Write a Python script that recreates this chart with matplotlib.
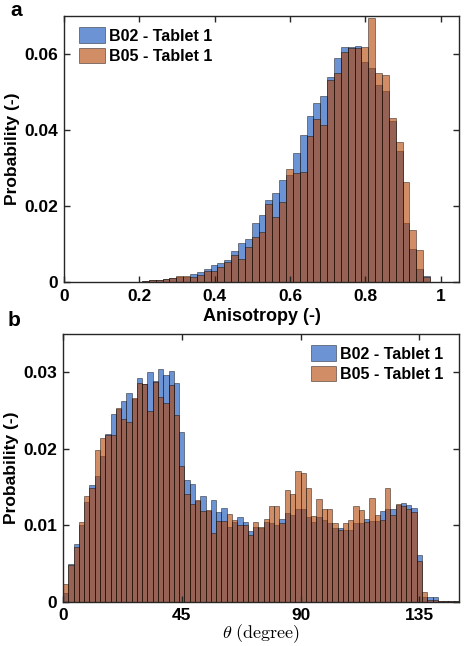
import matplotlib
matplotlib.use("Agg")
import matplotlib.pyplot as plt
import numpy as np

# ---------------- data ----------------
labels = ["B02 - Tablet 1", "B05 - Tablet 1"]

# Panel a: anisotropy histogram (bin width ~0.0182)
aniso_first_edge = 0.1890
aniso_bin_width = 0.0182
aniso_b02 = [0.0001, 0.0003, 0.0004, 0.0006, 0.0008, 0.0011, 0.0012, 0.0014, 0.0022, 0.0026,
             0.0034, 0.0044, 0.0050, 0.0059, 0.0081, 0.0103, 0.0114, 0.0154, 0.0176, 0.0215,
             0.0235, 0.0268, 0.0281, 0.0340, 0.0387, 0.0437, 0.0470, 0.0489, 0.0540, 0.0589,
             0.0619, 0.0619, 0.0622, 0.0580, 0.0562, 0.0518, 0.0502, 0.0424, 0.0345, 0.0156,
             0.0088, 0.0035, 0.0015]
aniso_b05 = [0.0001, 0.0002, 0.0005, 0.0006, 0.0008, 0.0010, 0.0017, 0.0015, 0.0012, 0.0019,
             0.0028, 0.0030, 0.0039, 0.0053, 0.0071, 0.0061, 0.0091, 0.0119, 0.0132, 0.0205,
             0.0170, 0.0210, 0.0297, 0.0286, 0.0290, 0.0384, 0.0430, 0.0414, 0.0531, 0.0551,
             0.0604, 0.0617, 0.0615, 0.0619, 0.0694, 0.0551, 0.0545, 0.0431, 0.0369, 0.0264,
             0.0138, 0.0083, 0.0013]

# Panel b: theta histogram (2 degree bins from 0)
theta_bin_width = 2.0
theta_b02 = [0.0012, 0.0050, 0.0076, 0.0101, 0.0130, 0.0153, 0.0165, 0.0191, 0.0219, 0.0246,
             0.0252, 0.0263, 0.0273, 0.0265, 0.0292, 0.0285, 0.0301, 0.0289, 0.0304, 0.0297,
             0.0302, 0.0286, 0.0222, 0.0159, 0.0154, 0.0132, 0.0139, 0.0119, 0.0133, 0.0117,
             0.0123, 0.0098, 0.0105, 0.0111, 0.0104, 0.0093, 0.0098, 0.0096, 0.0104, 0.0103,
             0.0100, 0.0108, 0.0116, 0.0114, 0.0121, 0.0122, 0.0111, 0.0104, 0.0111, 0.0107,
             0.0103, 0.0096, 0.0096, 0.0094, 0.0094, 0.0103, 0.0103, 0.0109, 0.0106, 0.0106,
             0.0119, 0.0122, 0.0122, 0.0127, 0.0129, 0.0127, 0.0123, 0.0062, 0.0007, 0.0006,
             0.0006, 0.0001, 0.0001, 0.0001, 0.0001]
theta_b05 = [0.0023, 0.0048, 0.0072, 0.0104, 0.0138, 0.0149, 0.0199, 0.0214, 0.0218, 0.0218,
             0.0253, 0.0239, 0.0235, 0.0266, 0.0286, 0.0285, 0.0249, 0.0287, 0.0268, 0.0260,
             0.0283, 0.0244, 0.0177, 0.0141, 0.0128, 0.0133, 0.0119, 0.0120, 0.0090, 0.0106,
             0.0106, 0.0115, 0.0107, 0.0101, 0.0100, 0.0087, 0.0105, 0.0098, 0.0109, 0.0125,
             0.0125, 0.0103, 0.0146, 0.0141, 0.0171, 0.0168, 0.0149, 0.0112, 0.0134, 0.0122,
             0.0122, 0.0103, 0.0094, 0.0103, 0.0107, 0.0125, 0.0120, 0.0104, 0.0136, 0.0113,
             0.0107, 0.0149, 0.0114, 0.0128, 0.0126, 0.0122, 0.0117, 0.0054, 0.0013, 0.0003,
             0.0002, 0.0001, 0.0001, 0.0001, 0.0001]

aniso_ticks = [0, 0.2, 0.4, 0.6, 0.8, 1.0]
aniso_ticklabels = ["0", "0.2", "0.4", "0.6", "0.8", "1"]
aniso_yticks = [0, 0.02, 0.04, 0.06]
aniso_yticklabels = ["0", "0.02", "0.04", "0.06"]
theta_ticks = [0, 45, 90, 135]
theta_ticklabels = ["0", "45", "90", "135"]
theta_yticks = [0, 0.01, 0.02, 0.03]
theta_yticklabels = ["0", "0.01", "0.02", "0.03"]

# ---------------- style ----------------
plt.rcParams['font.family'] = ['Liberation Sans', 'DejaVu Sans']
plt.rcParams['mathtext.fontset'] = 'cm'
blue = (0.04, 0.30, 0.73)
orange = (0.70, 0.26, 0.0)
alpha = 0.6
axcol = (0.15, 0.15, 0.15)

fig = plt.figure(figsize=(4.68, 6.46), dpi=100)
ax1 = fig.add_axes([64/468, 1-282/646, 395/468, 266/646])
ax2 = fig.add_axes([63/468, 1-602/646, 396/468, 268/646])


def style(ax, xpad):
    for s in ax.spines.values():
        s.set_color(axcol)
        s.set_linewidth(1.0)
    ax.tick_params(direction='in', length=4, width=1.0, color=axcol,
                   top=True, right=True, labelsize=12.5)
    ax.tick_params(axis='x', pad=xpad)
    ax.tick_params(axis='y', pad=4)
    for lab in ax.get_xticklabels() + ax.get_yticklabels():
        lab.set_fontweight('bold')


def draw(ax, start, width, b02, b05):
    n1 = len(b02)
    left1 = start + width * np.arange(n1)
    ax.bar(left1, b02, width=width, align='edge', color=blue, alpha=alpha,
           edgecolor='black', linewidth=0.5, label=labels[0])
    n2 = len(b05)
    left2 = start + width * np.arange(n2)
    ax.bar(left2, b05, width=width, align='edge', color=orange, alpha=alpha,
           edgecolor='black', linewidth=0.5, label=labels[1])


leg_kw = dict(frameon=False, fontsize=11.5, handlelength=1.6, handleheight=1.15,
              handletextpad=0.25, labelspacing=0.25, borderaxespad=0.3)

# Panel a
draw(ax1, aniso_first_edge, aniso_bin_width, aniso_b02, aniso_b05)
ax1.set_xlim(0, 1.0486)
ax1.set_ylim(0, 0.07)
ax1.set_xticks(aniso_ticks)
ax1.set_xticklabels(aniso_ticklabels)
ax1.set_yticks(aniso_yticks)
ax1.set_yticklabels(aniso_yticklabels)
style(ax1, 5)
ax1.set_xlabel("Anisotropy (-)", fontsize=13, fontweight='bold', labelpad=3)
ax1.set_ylabel("Probability (-)", fontsize=12.5, fontweight='bold', labelpad=3)
leg1 = ax1.legend(loc='upper left', bbox_to_anchor=(0.01, 1.0), **leg_kw)
for t in leg1.get_texts():
    t.set_fontweight('bold')

# Panel b
draw(ax2, 0.0, theta_bin_width, theta_b02, theta_b05)
ax2.set_xlim(0, 150)
ax2.set_ylim(0, 0.035)
ax2.set_xticks(theta_ticks)
ax2.set_xticklabels(theta_ticklabels)
ax2.set_yticks(theta_yticks)
ax2.set_yticklabels(theta_yticklabels)
style(ax2, 4)
ax2.set_xlabel(r"$\theta\ \mathrm{(degree)}$", fontsize=13, labelpad=0)
ax2.set_ylabel("Probability (-)", fontsize=12.5, fontweight='bold', labelpad=3)
leg2 = ax2.legend(loc='upper right', bbox_to_anchor=(0.99, 1.0), **leg_kw)
for t in leg2.get_texts():
    t.set_fontweight('bold')

fig.text(10/468, 1-16/646, "a", fontsize=15, fontweight='bold', va='baseline')
fig.text(8/468, 1-326/646, "b", fontsize=15, fontweight='bold', va='baseline')

fig.savefig("out.png", dpi=100)
